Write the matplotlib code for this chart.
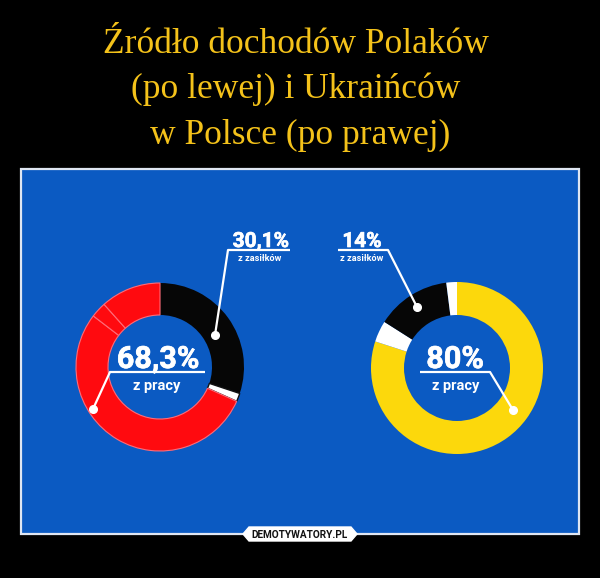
import matplotlib
matplotlib.use("Agg")
import matplotlib.pyplot as plt
from matplotlib.patches import Rectangle, Polygon
import matplotlib.patheffects as pe

# ---- data ----
title_lines = ["Źródło dochodów Polaków ", "(po lewej) i Ukraińców ", "w Polsce (po prawej)"]

left_labels = ["z zasiłków", "inne", "z pracy", "z pracy", "z pracy"]
left_values = [30.1, 1.6, 53.7, 3.0, 11.6]
left_colors = ["#060606", "#ffffff", "#ff0a0f", "#ff0a0f", "#ff0a0f"]

right_labels = ["z pracy", "inne", "z zasiłków", "inne"]
right_values = [80, 4, 14, 2]
right_colors = ["#fcd80c", "#ffffff", "#060606", "#ffffff"]

left_main, left_main_sub = "68,3%", "z pracy"
left_top, left_top_sub = "30,1%", "z zasiłków"
right_main, right_main_sub = "80%", "z pracy"
right_top, right_top_sub = "14%", "z zasiłków"

W, H = 600, 578
def Y(y):
    return H - y

fig = plt.figure(figsize=(6, 5.78), dpi=100, facecolor="black")
ax = fig.add_axes([0, 0, 1, 1])
ax.set_facecolor("black")

BLUE = "#0b5ac2"
GOLD = "#f4c21a"

# panel
ax.add_patch(Rectangle((21, Y(534)), 558, 365, facecolor=BLUE,
                       edgecolor="#dfe6f2", lw=1.6, zorder=1))

# title
for i, line in enumerate(title_lines):
    ax.text(300, Y(53 + i * 45.5), line, ha="center", va="baseline",
            color=GOLD, fontsize=25.5, family="Liberation Serif", zorder=5)

# donuts
wl, _ = ax.pie(left_values, colors=left_colors, startangle=90, counterclock=False,
               center=(160, Y(367)), radius=84,
               wedgeprops=dict(width=32, linewidth=0), frame=True)
for w, c in zip(wl, left_colors):
    w.set_zorder(3)
    if c == "#ff0a0f":
        w.set_edgecolor("#ff6b78"); w.set_linewidth(0.8)
    elif c == "#ffffff":
        w.set_edgecolor("#111111"); w.set_linewidth(1.0)

wr, _ = ax.pie(right_values, colors=right_colors, startangle=90, counterclock=False,
               center=(457, Y(368)), radius=86,
               wedgeprops=dict(width=33, linewidth=0), frame=True)
for w in wr:
    w.set_zorder(3)

ax.set_xlim(0, W)
ax.set_ylim(0, H)
ax.set_aspect("auto")
ax.axis("off")

stroke = [pe.withStroke(linewidth=0.5, foreground="white")]
LBL = dict(color="white", family="Roboto", weight="bold", zorder=6)

def leader(pts, dot):
    xs = [p[0] for p in pts]
    ys = [Y(p[1]) for p in pts]
    ax.plot(xs, ys, color="white", lw=1.6, solid_capstyle="butt", zorder=6)
    ax.plot([dot[0]], [Y(dot[1])], "o", color="white", ms=5.5, zorder=6)

# left top label
ax.text(261, Y(247), left_top, ha="center", va="baseline", fontsize=15, path_effects=stroke, **LBL)
ax.text(260, Y(261), left_top_sub, ha="center", va="baseline", fontsize=6.6, **LBL)
leader([(290, 250), (228, 250), (215, 335)], (215, 335))

# left main label
ax.text(158, Y(368), left_main, ha="center", va="baseline", fontsize=22, path_effects=stroke, **LBL)
ax.text(157, Y(390), left_main_sub, ha="center", va="baseline", fontsize=10.5, **LBL)
leader([(205, 372), (110, 372), (93, 409)], (93, 409))

# right top label
ax.text(362, Y(247), right_top, ha="center", va="baseline", fontsize=15, path_effects=stroke, **LBL)
ax.text(362, Y(261), right_top_sub, ha="center", va="baseline", fontsize=6.6, **LBL)
leader([(338, 250), (388, 250), (417, 307)], (417, 307))

# right main label
ax.text(455, Y(368), right_main, ha="center", va="baseline", fontsize=22, path_effects=stroke, **LBL)
ax.text(456, Y(390), right_main_sub, ha="center", va="baseline", fontsize=10.5, **LBL)
leader([(420, 372), (490, 372), (513, 410)], (513, 410))

# watermark (hexagonal tag)
tag = [(243, Y(534)), (249, Y(527)), (351, Y(527)), (357, Y(534)),
       (351, Y(541)), (249, Y(541))]
ax.add_patch(Polygon(tag, closed=True, facecolor="white", edgecolor="white", zorder=7))
ax.text(300, Y(534.5), "DEMOTYWATORY.PL", ha="center", va="center",
        fontsize=7.2, color="#111111", family="Roboto", weight="bold", zorder=8)

fig.savefig("out.png", dpi=100, facecolor="black")
